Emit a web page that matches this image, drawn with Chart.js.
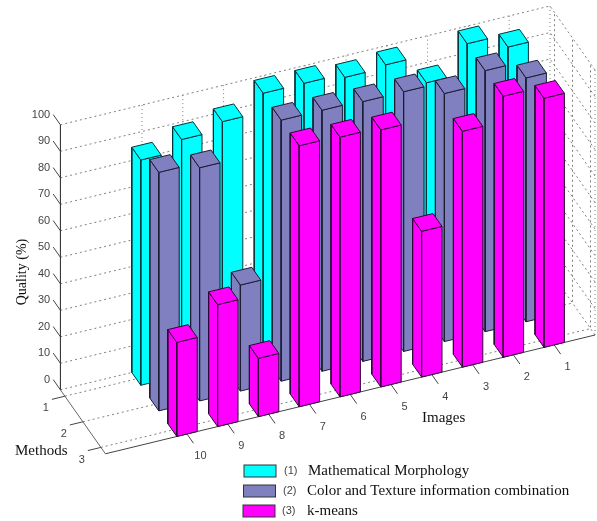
<!DOCTYPE html>
<html>
<head>
<meta charset="utf-8">
<title>Quality per image and method</title>
<script src="https://cdn.jsdelivr.net/npm/chart.js@4/dist/chart.umd.js"></script>
<style>
  html, body { margin: 0; padding: 0; background: #fff; }
  canvas { display: block; filter: blur(0.35px); }
</style>
</head>
<body>
<canvas id="chart" width="597" height="521"></canvas>
<script>
const images = [1, 2, 3, 4, 5, 6, 7, 8, 9, 10];
const methods = [1, 2, 3];
const qualityTicks = [0, 10, 20, 30, 40, 50, 60, 70, 80, 90, 100];

const morphology = [94, 99, 88, 98.5, 97.5, 99, 99, 92, 89, 85];
const colorTexture = [92, 98.5, 93.6, 98, 98, 98.5, 98.5, 40, 88, 90];
const kMeans = [94, 98.5, 89, 55, 97, 98, 98.5, 22, 46, 35.5];

const methodNames = ["Mathematical Morphology", "Color and Texture information combination", "k-means"];
const methodColors = ["#00ffff", "#8080c0", "#ff00ff"];
const methodEdges = ["#06343c", "#1c1c33", "#2e0836"];

const imageMin = 0, imageMax = 12;
const methodMin = 0.75, methodMax = 3.25;
const halfBar = 0.25;

// oblique view of the matlab axes box
function project(image, method, quality)
{
  return {
    x: 536.5 - 40.8 * image + 18 * method,
    y: 251.8 + 9.9 * image + 25.6 * method - 2.65 * quality
  };
}

const datasets = [];

function addLine(points, color, dash, width = 1)
{
  datasets.push({
    data: points,
    showLine: true,
    fill: false,
    borderColor: color,
    borderWidth: width,
    borderDash: dash,
    pointRadius: 0,
    tension: 0
  });
}

function addFace(points, color, edge)
{
  datasets.push({
    data: [...points, points[0]],
    showLine: true,
    fill: "shape",
    backgroundColor: color,
    borderColor: edge,
    borderWidth: 1,
    pointRadius: 0,
    tension: 0
  });
}

const dots = [2, 3];
const gridColor = "#808080";

// grid on back walls
qualityTicks.forEach(q =>
{
  addLine([project(imageMax, methodMin, q), project(imageMin, methodMin, q), project(imageMin, methodMax, q)], gridColor, dots);
});
images.forEach(i =>
{
  addLine([project(i, methodMin, 100), project(i, methodMin, 0), project(i, methodMax, 0)], gridColor, [1, 3]);
});
methods.forEach(m =>
{
  addLine([project(imageMax, m, 0), project(imageMin, m, 0), project(imageMin, m, 100)], gridColor, dots);
});
addLine([project(imageMin, methodMin, 0), project(imageMin, methodMin, 100)], gridColor, [1, 3]);
addLine([project(imageMin, methodMax, 0), project(imageMin, methodMax, 100)], gridColor, [1, 3]);

// axes and tick marks
addLine([project(imageMax, methodMin, 0), project(imageMax, methodMin, 100)], "#222");
addLine([project(imageMax, methodMin, 0), project(imageMax, methodMax, 0)], "#666");
addLine([project(imageMax, methodMax, 0), project(imageMin, methodMax, 0)], "#444");
qualityTicks.forEach(q =>
{
  addLine([project(imageMax, methodMin, q), project(imageMax, methodMin - 0.4, q)], "#444");
});
methods.forEach(m =>
{
  addLine([project(imageMax, m, 0), project(imageMax + 0.32, m, 0)], "#444");
});
images.forEach(i =>
{
  addLine([project(i, methodMax, 0), project(i, methodMax + 0.36, 0)], "#444");
});

// bars, back row first and right to left
[morphology, colorTexture, kMeans].forEach((series, s) =>
{
  const m = methods[s];
  const m0 = m - halfBar, m1 = m + halfBar;
  images.forEach((image, k) =>
  {
    const q = series[k];
    const i0 = image - halfBar, i1 = image + halfBar;
    addFace([project(i1, m0, 0), project(i1, m1, 0), project(i1, m1, q), project(i1, m0, q)], methodColors[s], methodEdges[s]);
    addFace([project(i1, m1, 0), project(i0, m1, 0), project(i0, m1, q), project(i1, m1, q)], methodColors[s], methodEdges[s]);
    addFace([project(i1, m0, q), project(i1, m1, q), project(i0, m1, q), project(i0, m0, q)], methodColors[s], methodEdges[s]);
  });
});

// chart.js paints the last dataset first
datasets.reverse();

const tickFont = "11px 'Liberation Sans'";
const titleFont = "15px 'Liberation Serif'";
const tickColor = "#444";

const textPlugin =
{
  id: "axisText",
  afterDraw(chart)
  {
    const ctx = chart.ctx;
    ctx.save();
    ctx.textBaseline = "middle";

    ctx.font = tickFont;
    ctx.fillStyle = tickColor;
    ctx.textAlign = "right";
    qualityTicks.forEach(q =>
    {
      const p = project(imageMax, methodMin - 0.4, q);
      ctx.fillText(String(q), p.x - 3, p.y);
    });
    ctx.textAlign = "center";
    methods.forEach(m =>
    {
      const p = project(imageMax + 0.32, m, 0);
      ctx.fillText(String(m), p.x - 6, p.y + 9);
    });
    images.forEach(i =>
    {
      const p = project(i, methodMax + 0.36, 0);
      ctx.fillText(String(i), p.x + 7, p.y + 13);
    });

    ctx.font = titleFont;
    ctx.fillStyle = "#111";
    ctx.textAlign = "left";
    ctx.fillText("Methods", 15, 451);
    ctx.fillText("Images", 422, 418);
    ctx.save();
    ctx.translate(22, 272);
    ctx.rotate(-Math.PI / 2);
    ctx.textAlign = "center";
    ctx.font = "14px 'Liberation Serif'";
    ctx.fillText("Quality (%)", 0, 0);
    ctx.restore();

    methodNames.forEach((name, s) =>
    {
      const y = 471 + s * 20;
      const x = 244 - s * 0.5;
      ctx.fillStyle = methodColors[s];
      ctx.strokeStyle = "#333";
      ctx.lineWidth = 1;
      ctx.fillRect(x, y - 6, 32, 12);
      ctx.strokeRect(x, y - 6, 32, 12);
      ctx.font = tickFont;
      ctx.fillStyle = tickColor;
      ctx.fillText("(" + methods[s] + ")", 284 - s, y);
      ctx.font = titleFont;
      ctx.fillStyle = "#111";
      ctx.fillText(name, s === 0 ? 308 : 307, y);
    });
    ctx.restore();
  }
};

new Chart(document.getElementById("chart"),
{
  type: "scatter",
  data: { datasets },
  plugins: [textPlugin],
  options:
  {
    responsive: false,
    animation: false,
    devicePixelRatio: 1,
    layout: { padding: 0 },
    plugins:
    {
      legend: { display: false },
      tooltip: { enabled: false },
      filler: { propagate: false }
    },
    scales:
    {
      x: { type: "linear", min: 0, max: 597, display: false },
      y: { type: "linear", min: 0, max: 521, reverse: true, display: false }
    }
  }
});
</script>
</body>
</html>
